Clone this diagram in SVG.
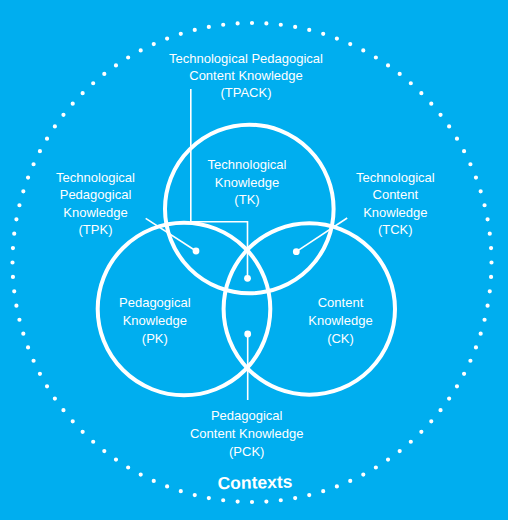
<svg xmlns="http://www.w3.org/2000/svg" width="508" height="520" viewBox="0 0 508 520">
  <style>
    .ring { fill: none; stroke: #ffffff; stroke-width: 4; }
    .lead { fill: none; stroke: #ffffff; stroke-width: 1.6; }
    .dot { fill: #ffffff; }
    .lbl { font-family: "Liberation Sans", Arial, sans-serif; font-size: 13px; fill: #ffffff; text-anchor: middle; }
    .ctx { font-family: "Liberation Sans", Arial, sans-serif; font-size: 17.5px; font-weight: bold; fill: #ffffff; text-anchor: middle; }
  </style>
  <rect x="0" y="0" width="508" height="520" fill="#00AEEF"/>

  <g id="contexts">
    <circle cx="252" cy="262.5" r="239.5" fill="none" stroke="#ffffff" stroke-width="4.2" stroke-linecap="round" stroke-dasharray="0 1" pathLength="104"/>
    <text class="ctx" x="255" y="488.5" transform="rotate(-1.3 255 484)">Contexts</text>
  </g>

  <g id="tk">
    <circle class="ring" cx="249.3" cy="209" r="84.3"/>
    <text class="lbl" x="247" y="169">Technological</text>
    <text class="lbl" x="247" y="186.5">Knowledge</text>
    <text class="lbl" x="247" y="204">(TK)</text>
  </g>

  <g id="pk">
    <circle class="ring" cx="184" cy="309" r="86.3"/>
    <text class="lbl" x="154.8" y="307.3">Pedagogical</text>
    <text class="lbl" x="154.8" y="325.3">Knowledge</text>
    <text class="lbl" x="154.8" y="343.2">(PK)</text>
  </g>

  <g id="ck">
    <circle class="ring" cx="309.3" cy="309" r="85.7"/>
    <text class="lbl" x="340.5" y="307.3">Content</text>
    <text class="lbl" x="340.5" y="325.3">Knowledge</text>
    <text class="lbl" x="340.5" y="343.2">(CK)</text>
  </g>

  <g id="tpack">
    <text class="lbl" x="246" y="62.5">Technological Pedagogical</text>
    <text class="lbl" x="246" y="79.5">Content Knowledge</text>
    <text class="lbl" x="246" y="96.8">(TPACK)</text>
  </g>

  <g id="tpk">
    <text class="lbl" x="95.5" y="182">Technological</text>
    <text class="lbl" x="95.5" y="199.2">Pedagogical</text>
    <text class="lbl" x="95.5" y="216.5">Knowledge</text>
    <text class="lbl" x="95.5" y="233.5">(TPK)</text>
  </g>

  <g id="tck">
    <text class="lbl" x="395.3" y="182">Technological</text>
    <text class="lbl" x="395.3" y="199.2">Content</text>
    <text class="lbl" x="395.3" y="216.5">Knowledge</text>
    <text class="lbl" x="395.3" y="233.5">(TCK)</text>
  </g>

  <g id="pck">
    <text class="lbl" x="246.7" y="420.3">Pedagogical</text>
    <text class="lbl" x="246.7" y="438">Content Knowledge</text>
    <text class="lbl" x="246.7" y="455.8">(PCK)</text>
  </g>

  <g id="connectors">
    <polyline class="lead" points="190.8,89 190.8,221.7 247.5,221.7 247.5,278"/>
    <circle class="dot" cx="247.5" cy="278.3" r="3.4"/>
    <line class="lead" x1="145.7" y1="218.3" x2="196" y2="251"/>
    <circle class="dot" cx="196" cy="251" r="3.4"/>
    <line class="lead" x1="347.2" y1="218" x2="296.3" y2="251.7"/>
    <circle class="dot" cx="296.3" cy="251.7" r="3.4"/>
    <line class="lead" x1="247.7" y1="334" x2="247.7" y2="400"/>
    <circle class="dot" cx="247.7" cy="334" r="3.4"/>
  </g>
</svg>
